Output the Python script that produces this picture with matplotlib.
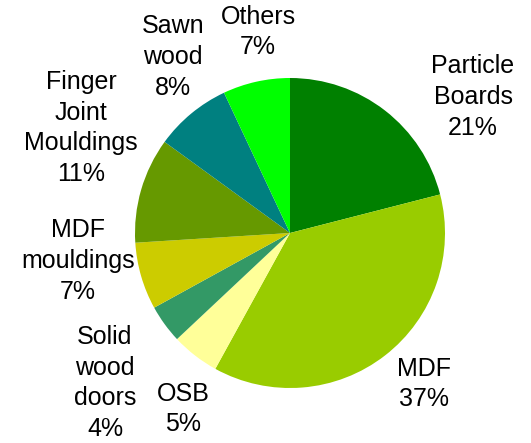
import matplotlib
matplotlib.use("Agg")
import matplotlib.pyplot as plt

categories = ["Particle\nBoards", "MDF", "OSB", "Solid\nwood\ndoors",
              "MDF\nmouldings", "Finger\nJoint\nMouldings", "Sawn\nwood", "Others"]
shares = [21, 37, 5, 4, 7, 11, 8, 7]
colors = ["#008000", "#99CC00", "#FFFF99", "#339966",
          "#CCCC00", "#669900", "#008080", "#00FF00"]

# label centres in pixel coordinates of the 531x443 canvas
label_px = [(473, 97), (424, 384), (183, 409), (105, 383),
            (78, 261), (81, 128), (173, 57), (258, 32)]

W, H = 531, 443
cx, cy, r = 290, 233, 155

plt.rcParams["font.family"] = ["Liberation Sans", "DejaVu Sans"]
fig = plt.figure(figsize=(W / 100, H / 100), dpi=100)
ax = fig.add_axes([(cx - r) / W, (H - cy - r) / H, 2 * r / W, 2 * r / H])
ax.pie(shares, colors=colors, startangle=90, counterclock=False, radius=1,
       wedgeprops=dict(linewidth=0))
ax.set_xlim(-1, 1)
ax.set_ylim(-1, 1)
ax.set_aspect("equal")
ax.axis("off")

for name, val, (px, py) in zip(categories, shares, label_px):
    fig.text(px / W, 1 - py / H, f"{name}\n{val}%", ha="center", va="center",
             fontsize=18, linespacing=1.36, color="black")

fig.savefig("out.png", dpi=100)
